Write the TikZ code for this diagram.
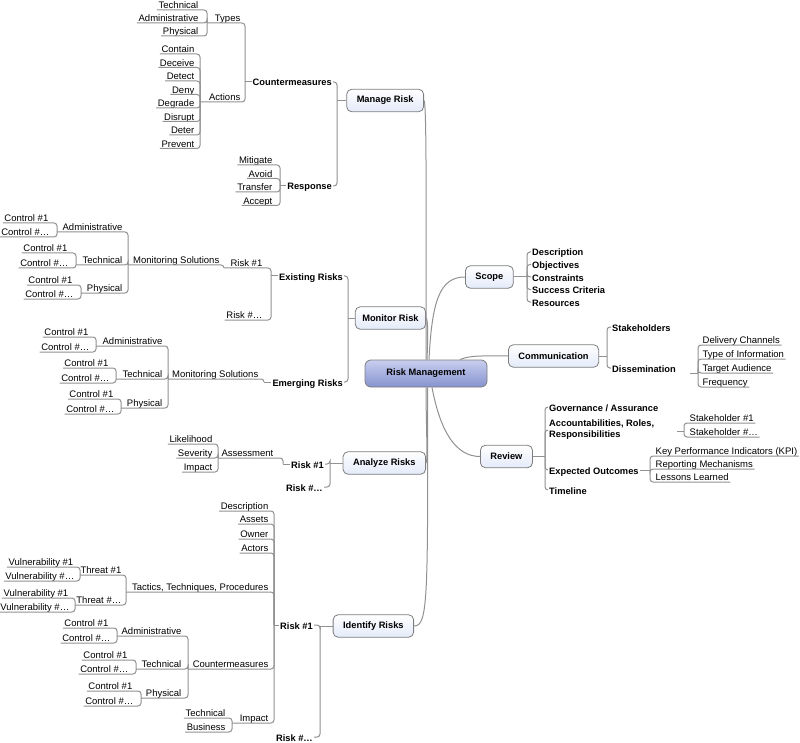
\documentclass[tikz,border=0pt]{standalone}
\usepackage{fontspec}
\setmainfont{Liberation Sans}
\definecolor{lnc}{RGB}{145,145,145}
\definecolor{tbc}{RGB}{125,125,125}
\definecolor{tfc}{RGB}{228,234,250}
\definecolor{ctop}{RGB}{200,207,240}
\definecolor{cbot}{RGB}{134,146,206}
\begin{document}
\begin{tikzpicture}[x=1pt,y=-1pt,
  ln/.style={draw=lnc, line width=1pt, rounded corners=3pt},
  cl/.style={draw=lnc, line width=1pt},
  ulbase/.style={inner xsep=1.5pt, inner ysep=0pt, text height=8pt, text depth=1.2pt, font=\fontsize{9.5}{11}\selectfont},
  ulL/.style={ulbase, anchor=south east},
  ulR/.style={ulbase, anchor=south west},
  bdbase/.style={inner xsep=1pt, inner ysep=1pt, font=\fontsize{9.3}{11}\selectfont\bfseries},
  bdL/.style={bdbase, text height=8.5pt, text depth=0.5pt, anchor=east},
  bdR/.style={bdbase, text height=8.5pt, text depth=0.5pt, anchor=west},
  topic/.style={draw=tbc, line width=0.8pt, rounded corners=5pt, top color=white, bottom color=tfc, inner xsep=10pt, minimum height=22.5pt, font=\fontsize{9.3}{11}\selectfont\bfseries},
  central/.style={draw=tbc, line width=0.8pt, rounded corners=6pt, top color=ctop, bottom color=cbot, minimum width=122pt, minimum height=27pt, font=\fontsize{9.3}{11}\selectfont\bfseries}
]
\useasboundingbox (0,0) rectangle (800,743);

% ---------- central and main topics ----------
\node[central] (rm) at (426,373.5) {Risk Management};
\node[topic, anchor=east] (mr) at (424,100.5) {Manage Risk};
\node[topic, anchor=east, inner xsep=7pt] (mon) at (426,318) {Monitor Risk};
\node[topic, anchor=east] (an) at (426,463) {Analyze Risks};
\node[topic, anchor=east] (id) at (414,626) {Identify Risks};
\node[topic, anchor=west] (sc) at (465,277) {Scope};
\node[topic, anchor=west] (co) at (508,356) {Communication};
\node[topic, anchor=west] (rv) at (480,456.5) {Review};

\draw[cl] (rm.north) .. controls (426,250) and (427,100.5) .. (mr.east);
\draw[cl] ([xshift=1pt]rm.north) .. controls (428,335) and (428,318) .. (mon.east);
\draw[cl] (rm.south) .. controls (426,420) and (428,463) .. (an.east);
\draw[cl] ([xshift=1.5pt]rm.south) .. controls (428,600) and (428,626) .. (id.east);
\draw[cl] ([xshift=3pt]rm.north) .. controls (432,300) and (440,277) .. (sc.west);
\draw[cl] ([xshift=34pt]rm.north) .. controls (470,355) and (485,356) .. (co.west);
\draw[cl] ([xshift=6pt]rm.south) .. controls (440,430) and (455,456.5) .. (rv.west);

% ---------- Manage Risk ----------
\node[ulL] (tte) at (200,10) {Technical};
\node[ulL] (tad) at (200,23) {Administrative};
\node[ulL] (tph) at (200,36) {Physical};
\node[ulL] (types) at (242,23) {Types};
\node[ulL] (ac1) at (196,54) {Contain};
\node[ulL] (ac2) at (196,67.5) {Deceive};
\node[ulL] (ac3) at (196,81) {Detect};
\node[ulL] (ac4) at (196,94.5) {Deny};
\node[ulL] (ac5) at (196,108) {Degrade};
\node[ulL] (ac6) at (196,121.5) {Disrupt};
\node[ulL] (ac7) at (196,135) {Deter};
\node[ulL] (ac8) at (196,148.5) {Prevent};
\node[ulL] (actions) at (242,102) {Actions};
\node[bdL] (cm) at (333,82) {Countermeasures};
\node[ulL] (rs1) at (274,165) {Mitigate};
\node[ulL] (rs2) at (274,178.5) {Avoid};
\node[ulL] (rs3) at (274,192) {Transfer};
\node[ulL] (rs4) at (274,205.5) {Accept};
\node[bdL] (resp) at (333,186) {Response};
\coordinate (jtypes) at (207,23);
\coordinate (jact) at (200,102);
\coordinate (jcm) at (245,82);
\coordinate (jresp) at (280,186);
\coordinate (jmr) at (337,100.5);
\foreach \n in {tte,tad,tph} \draw[ln] (\n.south west) -| (jtypes);
\foreach \n in {ac1,ac2,ac3,ac4,ac5,ac6,ac7,ac8} \draw[ln] (\n.south west) -| (jact);
\draw[ln] (jtypes) -| (jcm);
\draw[ln] (jact) -| (jcm);
\draw[ln] (jcm) -- (cm.west);
\foreach \n in {rs1,rs2,rs3,rs4} \draw[ln] (\n.south west) -| (jresp);
\draw[ln] (jresp) -- (resp.west);
\draw[ln] (cm.east) -| (jmr);
\draw[ln] (resp.east) -| (jmr);
\draw[ln] (jmr) -- (mr.west);

% ---------- Monitor Risk ----------
\node[ulL] (ma1) at (50,223) {Control \#1};
\node[ulL] (ma2) at (51,237) {Control \#…};
\node[ulL] (mt1) at (69,253) {Control \#1};
\node[ulL] (mt2) at (70,268) {Control \#…};
\node[ulL] (mp1) at (74,285) {Control \#1};
\node[ulL] (mp2) at (75,299) {Control \#…};
\node[ulL] (madm) at (124,232) {Administrative};
\node[ulL] (mtec) at (124,265) {Technical};
\node[ulL] (mphy) at (124,293) {Physical};
\node[ulL] (mms) at (221,265) {Monitoring Solutions};
\node[ulL] (mr1) at (264,268) {Risk \#1};
\node[ulL] (mr2) at (264,320) {Risk \#…};
\node[bdL] (er) at (344,276) {Existing Risks};
\coordinate (jma) at (57,232);
\coordinate (jmt) at (76,265);
\coordinate (jmp) at (81,293);
\coordinate (jmms) at (128,265);
\coordinate (jmr1) at (224,268);
\coordinate (jer) at (271,276);
\coordinate (jmon) at (348,318);
\foreach \n in {ma1,ma2} \draw[ln] (\n.south west) -| (jma);
\foreach \n in {mt1,mt2} \draw[ln] (\n.south west) -| (jmt);
\foreach \n in {mp1,mp2} \draw[ln] (\n.south west) -| (jmp);
\draw[ln] (jma) -| (jmms);
\draw[ln] (jmt) -| (jmms);
\draw[ln] (jmp) -| (jmms);
\draw[ln] (jmms) -| (jmr1);
\draw[ln] (jmr1) -| (jer);
\draw[ln] (mr2.south west) -| (jer);
\draw[ln] (jer) -- (er.west);

\node[ulL] (na1) at (90,337) {Control \#1};
\node[ulL] (na2) at (91,352) {Control \#…};
\node[ulL] (nt1) at (110,368) {Control \#1};
\node[ulL] (nt2) at (111,383) {Control \#…};
\node[ulL] (np1) at (115,399) {Control \#1};
\node[ulL] (np2) at (116,414) {Control \#…};
\node[ulL] (nadm) at (164,346) {Administrative};
\node[ulL] (ntec) at (164,379) {Technical};
\node[ulL] (nphy) at (164,408) {Physical};
\node[ulL] (nms) at (260,379) {Monitoring Solutions};
\node[bdL] (em) at (344,382) {Emerging Risks};
\coordinate (jna) at (96,346);
\coordinate (jnt) at (116,379);
\coordinate (jnp) at (121,408);
\coordinate (jnms) at (168,379);
\coordinate (jem) at (264,382);
\foreach \n in {na1,na2} \draw[ln] (\n.south west) -| (jna);
\foreach \n in {nt1,nt2} \draw[ln] (\n.south west) -| (jnt);
\foreach \n in {np1,np2} \draw[ln] (\n.south west) -| (jnp);
\draw[ln] (jna) -| (jnms);
\draw[ln] (jnt) -| (jnms);
\draw[ln] (jnp) -| (jnms);
\draw[ln] (jnms) -| (jem);
\draw[ln] (jem) -- (em.west);
\draw[ln] (er.east) -| (jmon);
\draw[ln] (em.east) -| (jmon);
\draw[ln] (jmon) -- (mon.west);

% ---------- Analyze Risks ----------
\node[ulL] (ali) at (214,444) {Likelihood};
\node[ulL] (ase) at (214,458) {Severity};
\node[ulL] (aim) at (214,472) {Impact};
\node[ulL] (aas) at (275,458) {Assessment};
\node[bdL] (ar1) at (325,464) {Risk \#1};
\node[bdL] (ar2) at (324,487) {Risk \#…};
\coordinate (jas) at (218,458);
\coordinate (jar1) at (283,464);
\coordinate (jan) at (330,463);
\foreach \n in {ali,ase,aim} \draw[ln] (\n.south west) -| (jas);
\draw[ln] (jas) -| (jar1);
\draw[ln] (jar1) -- (ar1.west);
\draw[ln] (ar1.east) -| (jan);
\draw[ln] (ar2.east) -| (jan);
\draw[ln] (jan) -- (an.west);

% ---------- Identify Risks ----------
\node[ulL] (ide) at (270,511) {Description};
\node[ulL] (ias) at (270,524) {Assets};
\node[ulL] (iow) at (270,539) {Owner};
\node[ulL] (iac) at (270,553) {Actors};
\node[ulL] (itt) at (270,592) {Tactics, Techniques, Procedures};
\node[ulL] (icm) at (270,669) {Countermeasures};
\node[ulL] (iim) at (270,723) {Impact};
\node[ulL] (ith1) at (123,575) {Threat \#1};
\node[ulL] (ith2) at (123,605) {Threat \#…};
\node[ulL] (iv11) at (75,567) {Vulnerability \#1};
\node[ulL] (iv12) at (76,581) {Vulnerability \#…};
\node[ulL] (iv21) at (70,598) {Vulnerability \#1};
\node[ulL] (iv22) at (71,612) {Vulnerability \#…};
\node[ulL] (iadm) at (183,636) {Administrative};
\node[ulL] (itec) at (183,669) {Technical};
\node[ulL] (iphy) at (183,698) {Physical};
\node[ulL] (ia1) at (110,628) {Control \#1};
\node[ulL] (ia2) at (112,643) {Control \#…};
\node[ulL] (it1) at (129,660) {Control \#1};
\node[ulL] (it2) at (130,674) {Control \#…};
\node[ulL] (ip1) at (134,691) {Control \#1};
\node[ulL] (ip2) at (135,706) {Control \#…};
\node[ulL] (iit) at (227,718) {Technical};
\node[ulL] (iib) at (227,732) {Business};
\node[bdL] (ir1) at (314,625) {Risk \#1};
\node[bdL] (ir2) at (314,737) {Risk \#…};
\coordinate (jth1) at (80,575);
\coordinate (jth2) at (75,605);
\coordinate (jtt) at (126,592);
\coordinate (jia) at (117,636);
\coordinate (jit) at (136,669);
\coordinate (jip) at (141,698);
\coordinate (jicm) at (188,669);
\coordinate (jimp) at (232,723);
\coordinate (jir1) at (274,625);
\coordinate (jid) at (320,626);
\foreach \n in {iv11,iv12} \draw[ln] (\n.south west) -| (jth1);
\foreach \n in {iv21,iv22} \draw[ln] (\n.south west) -| (jth2);
\draw[ln] (jth1) -| (jtt);
\draw[ln] (jth2) -| (jtt);
\foreach \n in {ia1,ia2} \draw[ln] (\n.south west) -| (jia);
\foreach \n in {it1,it2} \draw[ln] (\n.south west) -| (jit);
\foreach \n in {ip1,ip2} \draw[ln] (\n.south west) -| (jip);
\draw[ln] (jia) -| (jicm);
\draw[ln] (jit) -| (jicm);
\draw[ln] (jip) -| (jicm);
\foreach \n in {iit,iib} \draw[ln] (\n.south west) -| (jimp);
\foreach \n in {ide,ias,iow,iac} \draw[ln] (\n.south west) -| (jir1);
\draw[ln] (jtt) -| (jir1);
\draw[ln] (jicm) -| (jir1);
\draw[ln] (jimp) -| (jir1);
\draw[ln] (jir1) -- (ir1.west);
\draw[ln] (ir1.east) -| (jid);
\draw[ln] (ir2.east) -| (jid);
\draw[ln] (jid) -- (id.west);

% ---------- Scope ----------
\node[bdR] (s1) at (531,252) {Description};
\node[bdR] (s2) at (531,264.5) {Objectives};
\node[bdR] (s3) at (531,277) {Constraints};
\node[bdR] (s4) at (531,289.5) {Success Criteria};
\node[bdR] (s5) at (531,302) {Resources};
\coordinate (jsc) at (527,277);
\foreach \n in {s1,s2,s3,s4,s5} \draw[ln] (\n.west) -| (jsc);
\draw[ln] (sc.east) -- (jsc);

% ---------- Communication ----------
\node[bdR] (cst) at (611,327) {Stakeholders};
\node[bdR] (cdi) at (611,368) {Dissemination};
\coordinate (jco) at (607,356);
\draw[ln] (cst.west) -| (jco);
\draw[ln] (cdi.west) -| (jco);
\draw[ln] (co.east) -- (jco);
\node[ulR] (d1) at (701,345) {Delivery Channels};
\node[ulR] (d2) at (701,359) {Type of Information};
\node[ulR] (d3) at (701,373) {Target Audience};
\node[ulR] (d4) at (701,387) {Frequency};
\coordinate (jdi) at (698,373);
\coordinate (tdi) at (690,373);
\foreach \n in {d1,d2,d3,d4} \draw[ln] (\n.south east) -| (jdi);
\draw[ln] (tdi) -- (jdi);

% ---------- Review ----------
\node[bdR] (r1) at (548,407) {Governance / Assurance};
\node[bdbase, anchor=west, align=left] (r2) at (548,430) {Accountabilities, Roles,\\Responsibilities};
\node[bdR] (r3) at (548,470) {Expected Outcomes};
\node[bdR] (r4) at (548,490) {Timeline};
\coordinate (jrv) at (545,456.5);
\foreach \n in {r1,r2,r3,r4} \draw[ln] (\n.west) -| (jrv);
\draw[ln] (rv.east) -- (jrv);
\node[ulR] (sh1) at (688,423) {Stakeholder \#1};
\node[ulR] (sh2) at (688,437) {Stakeholder \#…};
\coordinate (jsh) at (684,431);
\coordinate (tsh) at (677,431);
\foreach \n in {sh1,sh2} \draw[ln] (\n.south east) -| (jsh);
\draw[ln] (tsh) -- (jsh);
\node[ulR] (k1) at (654,456) {Key Performance Indicators (KPI)};
\node[ulR] (k2) at (654,469) {Reporting Mechanisms};
\node[ulR] (k3) at (654,482) {Lessons Learned};
\coordinate (jeo) at (650,470);
\foreach \n in {k1,k2,k3} \draw[ln] (\n.south east) -| (jeo);
\draw[ln] (r3.east) -- (jeo);
\end{tikzpicture}
\end{document}
